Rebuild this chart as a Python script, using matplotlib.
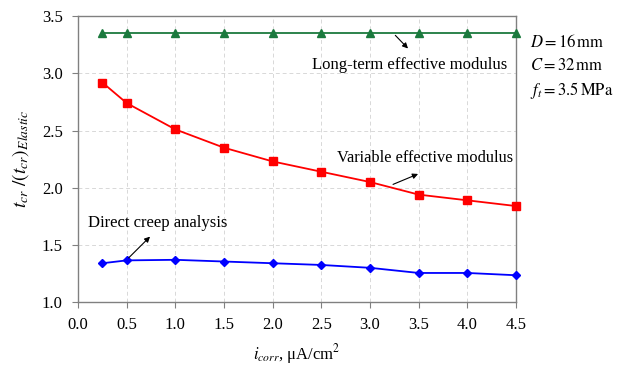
import matplotlib
matplotlib.use("Agg")
import matplotlib.pyplot as plt

plt.rcParams['font.family'] = ['Liberation Serif', 'DejaVu Serif']
plt.rcParams['mathtext.fontset'] = 'stix'

# datos
i_corr = [0.25, 0.5, 1.0, 1.5, 2.0, 2.5, 3.0, 3.5, 4.0, 4.5]
long_term = [3.35, 3.35, 3.35, 3.35, 3.35, 3.35, 3.35, 3.35, 3.35, 3.35]
variable = [2.92, 2.74, 2.51, 2.35, 2.23, 2.14, 2.05, 1.94, 1.89, 1.84]
direct = [1.34, 1.365, 1.37, 1.355, 1.34, 1.325, 1.30, 1.255, 1.255, 1.235]

x_ticks = [0.0, 0.5, 1.0, 1.5, 2.0, 2.5, 3.0, 3.5, 4.0, 4.5]
y_ticks = [1.0, 1.5, 2.0, 2.5, 3.0, 3.5]

fig = plt.figure(figsize=(6.27, 3.68), dpi=100)
ax = fig.add_axes([0.1245, 0.179, 0.6985, 0.777])

ax.plot(i_corr, long_term, color="#1b7a3e", marker="^", markersize=6, lw=1.3, clip_on=False, zorder=3)
ax.plot(i_corr, variable, color="#ff0000", marker="s", markersize=5.5, lw=1.3, clip_on=False, zorder=3)
ax.plot(i_corr, direct, color="#0000ff", marker="D", markersize=4.5, lw=1.3, clip_on=False, zorder=3)

ax.set_xlim(0, 4.5)
ax.set_ylim(1.0, 3.5)
ax.set_xticks(x_ticks)
ax.set_yticks(y_ticks)
ax.set_xticklabels([f"{v:.1f}" for v in x_ticks])
ax.set_yticklabels([f"{v:.1f}" for v in y_ticks])
ax.tick_params(labelsize=12, direction="out", length=4, color="#808080", pad=7)
ax.grid(True, ls=(0, (4, 3)), color="#d8d8d8", lw=0.7)
ax.set_axisbelow(True)
for s in ax.spines.values():
    s.set_color("#808080")
    s.set_linewidth(1.0)

ax.set_xlabel(r"$i_{corr}$, μA/cm$^2$", fontsize=12, labelpad=6)
ax.set_ylabel(r"$t_{cr}\ /\left(t_{cr}\right)_{Elastic}$", fontsize=14, labelpad=8)

arrow = dict(arrowstyle="-|>", color="black", lw=0.8, mutation_scale=8)
ax.annotate("", xy=(3.41, 3.20), xytext=(3.24, 3.35), arrowprops=arrow)
ax.text(3.41, 3.07, "Long-term effective modulus", fontsize=12, ha="center", va="center")
ax.annotate("", xy=(3.52, 2.13), xytext=(3.21, 2.02), arrowprops=arrow)
ax.text(3.57, 2.26, "Variable effective modulus", fontsize=11.8, ha="center", va="center")
ax.annotate("", xy=(0.76, 1.59), xytext=(0.5, 1.37), arrowprops=arrow)
ax.text(0.1, 1.69, "Direct creep analysis", fontsize=12, ha="left", va="center")

fig.text(0.845, 0.885, r"$D = 16\,\mathrm{mm}$", fontsize=12, ha="left", va="center")
fig.text(0.845, 0.82, r"$C = 32\,\mathrm{mm}$", fontsize=12, ha="left", va="center")
fig.text(0.845, 0.755, r"$f_t = 3.5\,\mathrm{MPa}$", fontsize=12, ha="left", va="center")

fig.savefig("out.png", dpi=100)
